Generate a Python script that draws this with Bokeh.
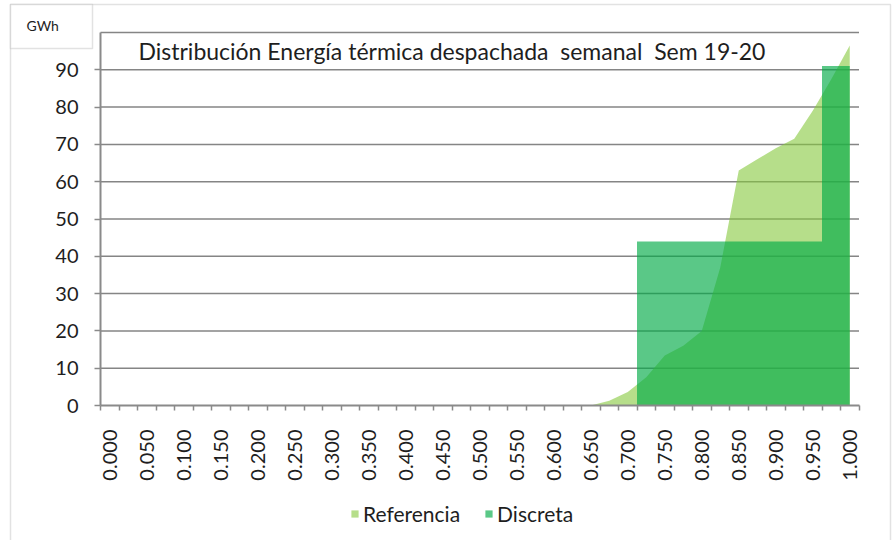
from math import pi
from bokeh.plotting import figure
from bokeh.models import (FixedTicker, Legend, LegendItem, Label, BoxAnnotation, Range1d)
from bokeh.embed import file_html
from bokeh.resources import INLINE

# ---------------- data ----------------
categories = ["0.000", "0.025", "0.050", "0.075", "0.100", "0.125", "0.150", "0.175",
              "0.200", "0.225", "0.250", "0.275", "0.300", "0.325", "0.350", "0.375",
              "0.400", "0.425", "0.450", "0.475", "0.500", "0.525", "0.550", "0.575",
              "0.600", "0.625", "0.650", "0.675", "0.700", "0.725", "0.750", "0.775",
              "0.800", "0.825", "0.850", "0.875", "0.900", "0.925", "0.950", "0.975",
              "1.000"]
referencia = [0, 0, 0, 0, 0, 0, 0, 0, 0, 0, 0, 0, 0, 0, 0, 0, 0, 0, 0, 0,
              0, 0, 0, 0, 0, 0, 0, 1.3, 3.6, 7.6, 13.4, 16, 20, 37, 63, 66,
              69, 71.5, 79, 87.5, 96.5]
discreta = [0, 0, 0, 0, 0, 0, 0, 0, 0, 0, 0, 0, 0, 0, 0, 0, 0, 0, 0, 0,
            0, 0, 0, 0, 0, 0, 0, 0, 0, 44, 44, 44, 44, 44, 44, 44, 44, 44,
            44, 91, 91]
x_tick_labels = ["0.000", "0.050", "0.100", "0.150", "0.200", "0.250", "0.300",
                 "0.350", "0.400", "0.450", "0.500", "0.550", "0.600", "0.650",
                 "0.700", "0.750", "0.800", "0.850", "0.900", "0.950", "1.000"]
y_ticks = [0, 10, 20, 30, 40, 50, 60, 70, 80, 90]
y_grid = [10, 20, 30, 40, 50, 60, 70, 80, 90, 100]
y_max = 100
title_text = "Distribución Energía térmica despachada \u00a0semanal \u00a0Sem 19-20"
unit_text = "GWh"

# ---------------- layout constants (pixels) ----------------
W, H = 892, 540
AX_LEFT, AX_BOTTOM, AX_TOP = 100, 405, 32        # plot area in page pixels
n = len(categories)
ppx = 18.5                                        # pixels per category
ppy = (AX_BOTTOM - AX_TOP) / y_max
x_start = -0.5 - AX_LEFT / ppx
y_start = -(H - AX_BOTTOM) / ppy

FONT = "Lato"
TXT = "#1e1e1e"
GRAY = "#8a8a8a"
BORDER = "#a0a0a0"

p = figure(width=W, height=H, output_backend="svg", toolbar_location=None,
           x_range=Range1d(x_start, x_start + W / ppx),
           y_range=Range1d(y_start, y_start + H / ppy),
           min_border=0)
p.outline_line_color = None
p.background_fill_color = "white"
p.border_fill_color = "white"
p.xgrid.visible = False
p.ygrid.visible = False

xs_idx = list(range(n))

# horizontal gridlines (limited to the plot area)
p.segment(x0=[-0.5] * len(y_grid), x1=[n - 0.5] * len(y_grid), y0=y_grid, y1=y_grid,
          line_color="#858585", line_width=1.5)

# series
r_ref = p.varea(x=xs_idx, y1=[0] * n, y2=referencia,
                fill_color="#85c83c", fill_alpha=0.6)

nz = [i for i, v in enumerate(discreta) if v > 0]
px, py = [nz[0] - 0.5], [0]
for i in nz:
    left, right = i - 0.5, min(i + 0.5, n - 1)
    px += [left, right]
    py += [discreta[i], discreta[i]]
px.append(px[-1]); py.append(0)
r_dis = p.patch(px, py, fill_color="#02aa47", fill_alpha=0.65, line_color=None)

# x axis
xa = p.xaxis[0]
xa.fixed_location = 0
xa.bounds = (-0.5, n - 0.5)
major = [categories.index(t) for t in x_tick_labels]
xa.ticker = FixedTicker(ticks=major, minor_ticks=[i - 0.5 for i in range(n + 1)])
xa.major_label_overrides = {categories.index(t): t for t in x_tick_labels}
xa.major_label_orientation = pi / 2
xa.major_tick_line_color = None
xa.major_tick_out = 0
xa.major_tick_in = 0
xa.minor_tick_out = 5
xa.minor_tick_in = 0
xa.minor_tick_line_color = GRAY
xa.minor_tick_line_width = 1.5
xa.axis_line_color = GRAY
xa.axis_line_width = 2
xa.major_label_standoff = 19
xa.major_label_text_font = FONT
xa.major_label_text_font_size = "20px"
xa.major_label_text_color = TXT

# y axis
ya = p.yaxis[0]
ya.fixed_location = -0.5
ya.bounds = (0, y_max)
ya.ticker = FixedTicker(ticks=y_ticks)
ya.minor_tick_line_color = None
ya.major_tick_out = 6
ya.major_tick_in = 0
ya.major_tick_line_color = GRAY
ya.major_tick_line_width = 1.5
ya.axis_line_color = GRAY
ya.axis_line_width = 2
ya.major_label_standoff = 16
ya.major_label_text_font = FONT
ya.major_label_text_font_size = "20px"
ya.major_label_text_color = TXT

# outer chart border and unit box (screen units, from bottom-left of canvas)
outer = BoxAnnotation(left=10, right=W - 2, bottom=-20, top=H - 4,
                      left_units="screen", right_units="screen",
                      bottom_units="screen", top_units="screen",
                      fill_alpha=0, line_color=BORDER, line_width=1.5)
p.add_layout(outer)
unit_box = BoxAnnotation(left=10, right=92, bottom=H - 48, top=H - 4,
                         left_units="screen", right_units="screen",
                         bottom_units="screen", top_units="screen",
                         fill_color="white", fill_alpha=1, line_color=BORDER, line_width=1.5)
p.add_layout(unit_box)
p.add_layout(Label(x=26, y=H - 25, x_units="screen", y_units="screen", text=unit_text,
                   text_font=FONT, text_font_size="14px", text_color=TXT,
                   text_baseline="middle", text_align="left"))

# title
p.add_layout(Label(x=138, y=H - 50, x_units="screen", y_units="screen", text=title_text,
                   text_font=FONT, text_font_size="23px", text_color=TXT,
                   text_baseline="middle", text_align="left"))

# legend
legend = Legend(items=[LegendItem(label="Referencia", renderers=[r_ref]),
                       LegendItem(label="Discreta", renderers=[r_dis])],
                orientation="horizontal", location=(350, H - 526),
                border_line_color=None, background_fill_alpha=0,
                padding=0, margin=0, spacing=24, label_standoff=4,
                glyph_width=9, glyph_height=9,
                label_text_font=FONT, label_text_font_size="21px",
                label_text_color=TXT)
p.add_layout(legend, "center")

open("out.html", "w").write(file_html(p, INLINE))
